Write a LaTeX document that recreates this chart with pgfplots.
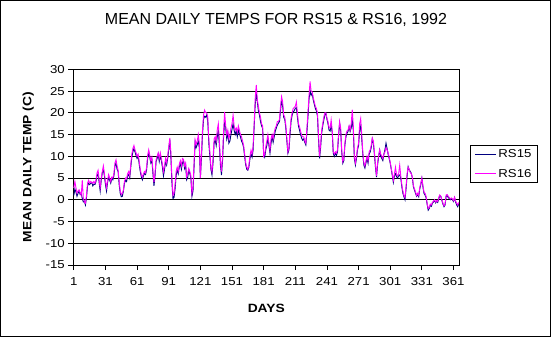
\documentclass[border=0pt]{standalone}
\usepackage{pgfplots}
\usepackage{pgfplotstable}
\pgfplotsset{compat=1.18}
\usepackage{fontspec}
\setmainfont{Liberation Sans}
\newfontfamily\wide[FakeStretch=1.15]{Liberation Sans}
\definecolor{rsnavy}{RGB}{0,0,128}
\definecolor{rsmag}{RGB}{255,0,255}

% RS15 daily means, days 1..366
\pgfplotstableread[row sep=\\]{
y\\
1.0\\2.5\\1.8\\0.8\\1.5\\2.0\\1.2\\1.4\\0.3\\-0.5\\
-0.3\\-1.2\\0.5\\3.2\\3.8\\3.5\\3.8\\4.0\\3.2\\3.6\\
3.5\\4.2\\5.5\\6.0\\4.0\\2.0\\4.5\\6.2\\7.0\\5.5\\
3.5\\2.0\\4.0\\5.2\\4.5\\3.8\\5.0\\4.6\\5.5\\7.8\\
8.5\\7.0\\6.5\\3.5\\1.5\\0.7\\0.8\\2.0\\3.8\\4.5\\
4.2\\5.5\\5.8\\5.0\\7.5\\9.8\\11.0\\11.8\\11.0\\10.2\\
9.5\\10.0\\8.2\\6.5\\5.3\\4.6\\5.5\\6.0\\5.8\\6.9\\
9.5\\11.0\\9.8\\8.5\\9.2\\6.0\\3.2\\5.5\\8.8\\9.5\\
10.5\\8.8\\10.2\\9.0\\7.5\\5.5\\7.0\\8.8\\8.0\\9.5\\
11.5\\13.8\\10.0\\4.0\\0.3\\0.5\\2.5\\5.5\\7.0\\6.0\\
7.5\\8.5\\7.0\\8.5\\9.0\\7.2\\8.0\\4.6\\5.2\\6.8\\
6.0\\5.0\\0.8\\2.0\\7.5\\13.2\\12.0\\12.6\\13.5\\12.0\\
5.0\\9.5\\15.0\\18.5\\19.2\\19.0\\19.5\\18.0\\13.0\\10.0\\
7.0\\5.7\\8.5\\13.0\\13.8\\12.5\\14.5\\16.0\\12.5\\8.0\\
5.7\\9.0\\14.5\\18.0\\16.5\\14.0\\15.3\\13.0\\13.5\\15.0\\
16.2\\17.5\\16.0\\15.0\\15.8\\14.5\\16.0\\15.2\\14.5\\13.5\\
13.0\\12.0\\9.9\\8.0\\7.0\\6.8\\7.5\\9.5\\10.5\\9.8\\
11.5\\16.8\\22.0\\24.5\\22.5\\20.5\\19.5\\18.0\\17.0\\16.5\\
10.5\\9.8\\11.5\\12.5\\14.0\\12.5\\10.7\\13.0\\14.5\\13.2\\
14.5\\15.8\\16.5\\17.2\\17.6\\18.0\\20.5\\23.0\\21.5\\19.0\\
18.5\\16.5\\13.5\\10.7\\11.5\\15.0\\18.0\\19.5\\20.2\\20.5\\
21.0\\21.2\\19.0\\17.0\\16.0\\15.0\\14.2\\13.7\\14.0\\13.2\\
12.6\\15.5\\19.0\\23.0\\25.2\\24.0\\24.5\\23.0\\22.0\\21.0\\
20.5\\19.2\\14.0\\9.5\\12.0\\15.3\\17.0\\18.3\\19.5\\19.9\\
18.5\\17.5\\16.0\\15.8\\17.0\\15.5\\10.7\\10.0\\10.8\\10.2\\
11.0\\14.5\\17.6\\16.0\\11.0\\8.4\\9.0\\12.5\\14.5\\15.3\\
15.7\\16.8\\15.7\\16.5\\18.3\\16.0\\9.5\\8.0\\9.5\\11.5\\
12.5\\16.0\\17.0\\14.0\\10.5\\8.0\\7.3\\8.5\\9.5\\8.4\\
10.5\\11.0\\12.0\\14.0\\13.0\\10.5\\7.5\\5.2\\8.0\\9.9\\
11.4\\10.0\\9.5\\9.0\\10.5\\11.5\\13.0\\11.8\\10.5\\9.5\\
8.4\\7.0\\5.5\\4.0\\5.5\\6.0\\5.3\\5.0\\5.5\\5.7\\
5.0\\3.0\\1.5\\0.7\\0.0\\2.5\\5.5\\7.6\\6.9\\6.5\\
6.1\\5.0\\3.0\\2.2\\1.5\\0.8\\1.2\\0.7\\2.5\\3.5\\
4.9\\3.0\\1.5\\1.1\\0.5\\-1.0\\-2.4\\-2.0\\-1.2\\-1.5\\
-0.8\\-0.5\\-0.1\\-0.7\\-0.3\\-0.6\\0.2\\1.0\\0.8\\-0.2\\
-1.0\\-1.6\\-1.2\\0.8\\1.0\\0.5\\0.3\\0.0\\0.3\\0.0\\
-0.4\\0.5\\-0.5\\-1.2\\-1.6\\-0.9\\
}\rsA

% RS16 daily means, days 1..366
\pgfplotstableread[row sep=\\]{
y\\
2.7\\4.2\\2.8\\1.5\\2.0\\2.3\\1.6\\1.0\\4.5\\0.5\\
-0.5\\-0.8\\1.0\\3.8\\4.5\\3.8\\4.2\\4.0\\3.8\\4.2\\
3.8\\4.5\\6.2\\6.8\\4.5\\2.8\\5.0\\6.5\\7.8\\6.0\\
4.2\\2.8\\4.5\\5.8\\5.0\\4.2\\5.2\\5.0\\6.0\\8.5\\
9.2\\7.8\\6.8\\4.2\\2.0\\1.2\\1.5\\2.2\\4.2\\5.0\\
4.8\\6.0\\6.5\\5.5\\8.2\\10.5\\11.8\\12.5\\11.5\\10.8\\
10.0\\10.5\\8.8\\7.0\\5.8\\5.2\\6.0\\6.5\\6.2\\7.5\\
10.2\\11.5\\10.2\\9.0\\9.8\\6.8\\4.0\\6.2\\9.2\\10.0\\
10.8\\9.5\\10.8\\9.5\\8.2\\6.5\\7.8\\9.5\\8.5\\10.2\\
12.2\\14.2\\11.0\\5.0\\1.0\\1.5\\3.5\\6.5\\7.5\\6.5\\
8.2\\9.0\\7.8\\9.5\\9.3\\7.8\\8.5\\5.2\\6.0\\7.2\\
6.5\\5.5\\1.5\\3.0\\8.5\\13.8\\12.8\\13.5\\15.0\\13.0\\
5.0\\10.5\\16.0\\19.5\\20.6\\20.0\\20.0\\19.0\\14.0\\11.0\\
7.5\\6.5\\9.5\\14.0\\14.5\\13.5\\16.1\\17.5\\13.5\\9.0\\
6.5\\10.0\\16.0\\20.2\\17.0\\15.0\\16.0\\14.0\\15.0\\16.5\\
17.5\\19.5\\17.0\\16.0\\16.5\\15.5\\17.0\\16.0\\15.0\\14.5\\
13.5\\12.5\\10.5\\8.5\\7.5\\7.0\\8.0\\10.0\\11.4\\10.5\\
12.5\\17.5\\23.5\\26.4\\23.0\\21.5\\20.0\\19.0\\17.5\\17.0\\
10.0\\10.5\\12.2\\13.5\\15.0\\13.0\\11.5\\14.0\\15.0\\14.0\\
15.5\\16.5\\17.0\\18.0\\18.0\\18.5\\21.5\\23.7\\22.5\\19.5\\
19.0\\17.2\\14.0\\11.0\\12.0\\16.0\\18.8\\20.0\\21.0\\21.2\\
21.5\\22.5\\20.0\\17.5\\16.8\\15.8\\14.8\\14.5\\14.5\\13.5\\
13.0\\16.5\\20.0\\24.0\\27.2\\25.0\\24.8\\23.5\\22.5\\21.5\\
21.0\\20.0\\15.0\\10.0\\12.8\\16.0\\17.5\\19.0\\20.0\\20.0\\
18.8\\18.0\\16.5\\16.5\\18.4\\16.0\\11.0\\10.5\\11.0\\10.7\\
11.5\\15.0\\18.0\\16.5\\11.5\\8.8\\9.5\\13.0\\15.0\\15.8\\
16.0\\17.0\\16.0\\17.5\\20.7\\17.0\\10.0\\8.5\\10.0\\12.0\\
13.0\\17.5\\18.7\\15.0\\11.0\\8.5\\7.8\\9.0\\10.0\\9.0\\
11.0\\11.5\\12.5\\14.2\\13.5\\11.0\\8.0\\5.5\\8.5\\10.2\\
11.5\\10.5\\10.0\\9.5\\10.5\\11.0\\12.0\\11.5\\10.8\\9.8\\
8.6\\7.2\\5.8\\4.5\\6.0\\7.5\\5.8\\5.5\\6.0\\8.0\\
5.5\\3.5\\2.0\\1.0\\0.5\\3.0\\6.0\\7.5\\7.0\\6.2\\
6.0\\5.2\\3.2\\2.5\\1.8\\1.0\\1.5\\1.0\\2.8\\3.8\\
5.0\\3.2\\1.8\\1.5\\0.8\\-0.8\\-2.0\\-1.8\\-1.0\\-1.2\\
-0.6\\-0.3\\0.0\\-0.5\\-0.2\\-0.4\\0.5\\1.1\\0.8\\0.0\\
-0.8\\-1.4\\-1.0\\1.1\\1.2\\0.8\\0.5\\0.2\\0.4\\0.2\\
-0.2\\0.6\\-0.3\\-0.8\\-1.2\\-0.6\\
}\rsB

\begin{document}
\begin{tikzpicture}
\path[use as bounding box] (0pt,0pt) rectangle (552pt,-338pt);
\fill[white] (0pt,0pt) rectangle (552pt,-338pt);
\draw[black, line width=1pt] (0.5pt,-0.5pt) rectangle (550pt,-336pt);
\begin{axis}[
  at={(73.3pt,-265pt)}, anchor=south west,
  scale only axis, width=386pt, height=195.7pt,
  xmin=0.5, xmax=366.5, ymin=-15, ymax=30,
  xtick={1,31,61,91,121,151,181,211,241,271,301,331,361},
  ytick={-15,-10,-5,0,5,10,15,20,25,30},
  xtick pos=bottom, ytick pos=left,
  tick align=outside, major tick length=5pt,
  tick style={black, line width=0.8pt},
  axis line style={black, line width=0.8pt},
  ymajorgrids, grid style={black, line width=0.8pt},
  /pgf/number format/assume math mode=true,
  ticklabel style={font=\wide\fontsize{11.5}{13}\selectfont},
  xticklabel style={yshift=-4pt},
  title={MEAN DAILY TEMPS FOR RS15 \& RS16, 1992},
  title style={at={(axis description cs:0.525,1.22)}, anchor=center, font=\fontsize{16}{19}\selectfont},
  xlabel={DAYS},
  xlabel style={at={(axis description cs:0.5,-0.222)}, anchor=center, font=\wide\fontsize{12}{14}\selectfont\bfseries},
  ylabel={MEAN DAILY TEMP (C)},
  ylabel style={at={(axis description cs:-0.1166,0.5)}, anchor=center, font=\wide\fontsize{12}{14}\selectfont\bfseries},
  legend style={at={(axis description cs:1.0277,0.613)}, anchor=north west, draw=black, line width=0.8pt,
    font=\wide\fontsize{11.5}{13}\selectfont, inner xsep=4pt, inner ysep=2pt, row sep=6pt},
  legend cell align=left,
  legend image code/.code={\draw[#1, line width=1pt] (0pt,0pt) -- (21pt,0pt);},
]
\addplot[rsnavy, line width=0.9pt] table[x expr=\coordindex+1, y=y] {\rsA};
\addlegendentry{RS15}
\addplot[rsmag, line width=0.9pt] table[x expr=\coordindex+1, y=y] {\rsB};
\addlegendentry{RS16}
\end{axis}
\end{tikzpicture}
\end{document}
